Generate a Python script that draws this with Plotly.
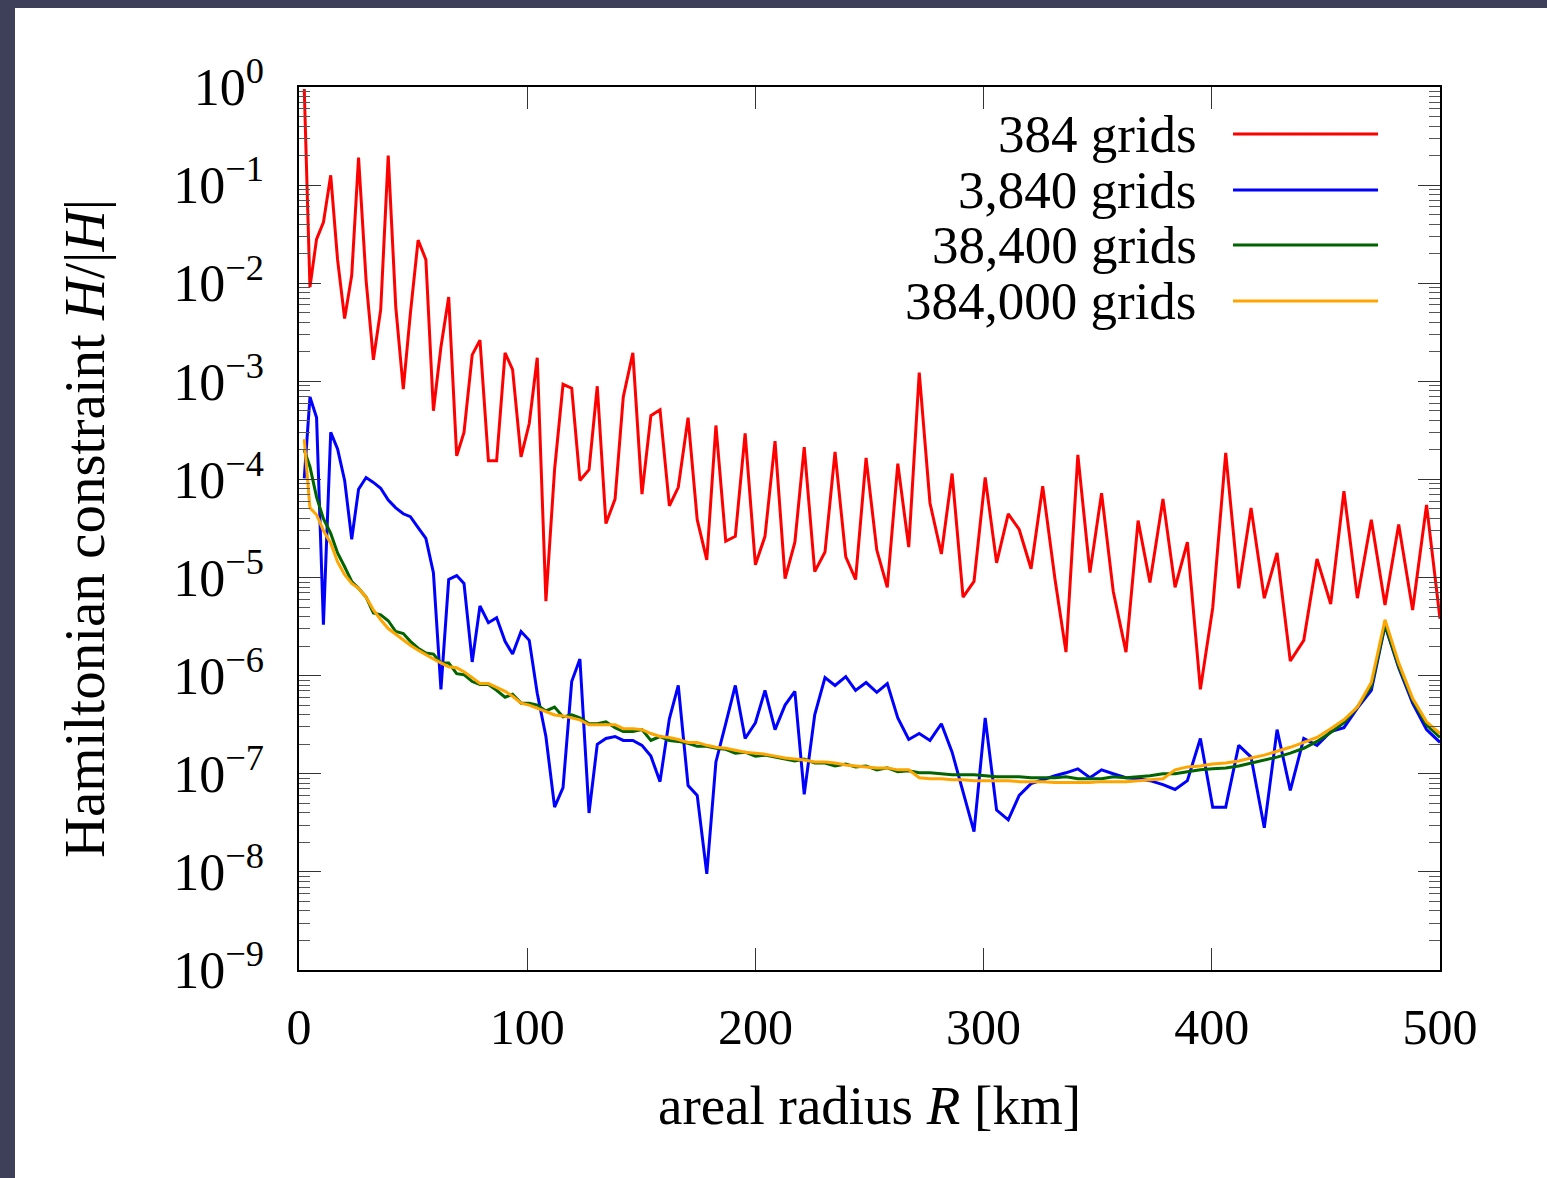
import plotly.graph_objects as go

# areal radius R [km] at which the constraint was sampled
radius_km = [2.3, 4.8, 7.7, 10.7, 13.9, 16.9, 20.0, 23.1, 26.1, 29.4,
             32.6, 35.8, 39.1, 42.4, 45.7, 48.8, 52.2, 55.6, 58.9, 62.2,
             65.6, 69.1, 72.3, 75.9, 79.3, 83.0, 86.6, 90.3, 93.6, 97.3,
             100.9, 104.4, 108.2, 112.0, 115.7, 119.5, 123.1, 127.1, 130.7, 134.5,
             138.5, 142.1, 146.3, 150.3, 154.2, 158.2, 162.3, 166.2, 170.5, 174.5,
             178.7, 182.7, 187.0, 191.2, 195.5, 200.0, 204.2, 208.6, 213.0, 217.3,
             221.4, 226.0, 230.5, 234.9, 239.6, 243.9, 248.5, 253.2, 257.8, 262.4,
             267.2, 271.8, 276.5, 281.5, 286.2, 291.0, 295.8, 300.7, 305.7, 310.8,
             315.6, 320.8, 325.9, 331.3, 336.1, 341.3, 346.6, 351.7, 356.8, 362.4,
             367.7, 372.9, 378.6, 383.9, 389.3, 395.0, 400.4, 406.1, 411.8, 417.2,
             423.0, 428.6, 434.4, 440.3, 446.1, 452.1, 457.9, 463.8, 469.9, 475.9,
             481.9, 488.0, 494.1, 500.0]

# log10 of the Hamiltonian constraint
log_h_384 = [-0.02, -2.04, -1.55, -1.38, -0.90, -1.76, -2.36, -1.92, -0.72, -1.97,
             -2.78, -2.27, -0.70, -2.24, -3.08, -2.31, -1.56, -1.76, -3.30, -2.65,
             -2.14, -3.76, -3.52, -2.73, -2.58, -3.81, -3.81, -2.71, -2.88, -3.77,
             -3.43, -2.76, -5.24, -3.90, -3.03, -3.07, -4.01, -3.90, -3.05, -4.45,
             -4.20, -3.16, -2.71, -4.15, -3.35, -3.29, -4.27, -4.08, -3.37, -4.41,
             -4.82, -3.45, -4.63, -4.58, -3.53, -4.87, -4.58, -3.61, -5.01, -4.64,
             -3.67, -4.94, -4.74, -3.72, -4.79, -5.02, -3.78, -4.72, -5.10, -3.84,
             -4.69, -2.91, -4.24, -4.76, -3.94, -5.20, -5.04, -3.98, -4.85, -4.35,
             -4.51, -4.91, -4.07, -5.02, -5.76, -3.75, -4.95, -4.14, -5.14, -5.76,
             -4.42, -5.05, -4.20, -5.10, -4.64, -6.14, -5.31, -3.73, -5.11, -4.29,
             -5.21, -4.75, -5.85, -5.64, -4.81, -5.27, -4.12, -5.21, -4.41, -5.28,
             -4.46, -5.33, -4.26, -5.42]

log_h_3840 = [-3.99, -3.16, -3.37, -5.48, -3.52, -3.69, -4.01, -4.61, -4.10, -3.98,
              -4.03, -4.09, -4.21, -4.29, -4.35, -4.38, -4.49, -4.60, -4.95, -6.14,
              -5.02, -4.98, -5.06, -5.86, -5.29, -5.46, -5.41, -5.65, -5.78, -5.55,
              -5.64, -6.18, -6.62, -7.34, -7.14, -6.06, -5.83, -7.40, -6.70, -6.64,
              -6.62, -6.66, -6.66, -6.71, -6.82, -7.08, -6.44, -6.10, -7.12, -7.22,
              -8.02, -6.88, -6.49, -6.10, -6.64, -6.48, -6.15, -6.55, -6.30, -6.16,
              -7.21, -6.40, -6.02, -6.10, -6.01, -6.15, -6.07, -6.17, -6.08, -6.43,
              -6.65, -6.59, -6.66, -6.49, -6.78, -7.18, -7.59, -6.43, -7.37, -7.47,
              -7.22, -7.10, -7.06, -7.02, -6.99, -6.95, -7.04, -6.96, -7.00, -7.04,
              -7.05, -7.07, -7.11, -7.16, -7.07, -6.64, -7.34, -7.34, -6.71, -6.83,
              -7.55, -6.55, -7.17, -6.64, -6.71, -6.57, -6.53, -6.33, -6.15, -5.49,
              -5.92, -6.28, -6.55, -6.68]

log_h_38400 = [-3.70, -3.87, -4.18, -4.40, -4.55, -4.75, -4.89, -5.04, -5.11, -5.20,
               -5.36, -5.38, -5.44, -5.55, -5.57, -5.65, -5.72, -5.77, -5.78, -5.87,
               -5.87, -5.98, -5.99, -6.06, -6.09, -6.09, -6.15, -6.22, -6.19, -6.28,
               -6.28, -6.30, -6.36, -6.32, -6.42, -6.40, -6.43, -6.49, -6.49, -6.47,
               -6.53, -6.57, -6.57, -6.55, -6.66, -6.62, -6.66, -6.67, -6.69, -6.72,
               -6.72, -6.74, -6.75, -6.79, -6.78, -6.82, -6.81, -6.83, -6.85, -6.87,
               -6.85, -6.89, -6.89, -6.92, -6.90, -6.93, -6.92, -6.96, -6.94, -6.98,
               -6.97, -6.99, -6.99, -7.00, -7.01, -7.01, -7.01, -7.02, -7.03, -7.03,
               -7.03, -7.04, -7.04, -7.04, -7.03, -7.05, -7.05, -7.05, -7.03, -7.04,
               -7.03, -7.02, -7.00, -7.00, -6.98, -6.96, -6.95, -6.94, -6.92, -6.89,
               -6.86, -6.83, -6.79, -6.74, -6.67, -6.58, -6.48, -6.32, -6.11, -5.48,
               -5.90, -6.25, -6.50, -6.63]

log_h_384000 = [-3.59, -4.29, -4.36, -4.52, -4.65, -4.84, -4.97, -5.06, -5.11, -5.20,
                -5.33, -5.43, -5.52, -5.58, -5.64, -5.69, -5.74, -5.79, -5.83, -5.87,
                -5.91, -5.92, -5.96, -6.02, -6.08, -6.08, -6.12, -6.16, -6.21, -6.28,
                -6.30, -6.33, -6.37, -6.40, -6.41, -6.43, -6.45, -6.50, -6.50, -6.50,
                -6.50, -6.54, -6.54, -6.55, -6.59, -6.62, -6.63, -6.65, -6.68, -6.68,
                -6.71, -6.73, -6.74, -6.76, -6.78, -6.79, -6.80, -6.82, -6.84, -6.85,
                -6.86, -6.88, -6.88, -6.89, -6.91, -6.92, -6.93, -6.94, -6.94, -6.96,
                -6.96, -7.04, -7.05, -7.05, -7.06, -7.06, -7.07, -7.07, -7.07, -7.07,
                -7.08, -7.08, -7.08, -7.09, -7.09, -7.09, -7.09, -7.08, -7.08, -7.08,
                -7.07, -7.06, -7.05, -6.96, -6.93, -6.92, -6.90, -6.89, -6.87, -6.84,
                -6.81, -6.77, -6.73, -6.68, -6.63, -6.54, -6.45, -6.32, -6.07, -5.43,
                -5.87, -6.23, -6.47, -6.59]

series_names = ["384 grids", "3,840 grids", "38,400 grids", "384,000 grids"]
series_logs = [log_h_384, log_h_3840, log_h_38400, log_h_384000]
series_colors = ["#ff0000", "#0000ff", "#006400", "#ffa500"]

x_tick_vals = [0, 100, 200, 300, 400, 500]
y_exponents = [0, -1, -2, -3, -4, -5, -6, -7, -8, -9]

FONT = "Liberation Serif"
BG_DARK = "#3e4059"
LW = 3

fig = go.Figure()
for name, logs, color in zip(series_names, series_logs, series_colors):
    fig.add_trace(go.Scatter(
        x=radius_km, y=[10 ** v for v in logs], mode="lines", name=name,
        line=dict(color=color, width=LW), showlegend=False))

# legend drawn as in the reference: label on the left, line sample on the right
leg_y = [0.9468, 0.8834, 0.8211, 0.7577]
for name, color, yy in zip(series_names, series_colors, leg_y):
    fig.add_annotation(xref="paper", yref="paper", x=0.789, y=yy, text=name,
                       showarrow=False, xanchor="right", yanchor="middle",
                       font=dict(family=FONT, size=53, color="black"))
    fig.add_shape(type="line", xref="paper", yref="paper", x0=0.8186, x1=0.9457,
                  y0=yy, y1=yy, line=dict(color=color, width=LW))

# dark frame strips on the top and left of the page
fig.add_shape(type="rect", xref="paper", yref="paper", x0=-0.3, x1=1.2,
              y0=(970 - 8) / 883, y1=1.2, fillcolor=BG_DARK, line_width=0, layer="below")
fig.add_shape(type="rect", xref="paper", yref="paper", x0=-0.3, x1=(15 - 299) / 1141,
              y0=-0.3, y1=1.2, fillcolor=BG_DARK, line_width=0, layer="below")

minor_vals = [k * 10.0 ** e for e in range(-9, 0) for k in range(2, 10)]

fig.update_layout(
    width=1547, height=1178,
    margin=dict(l=299, r=107, t=87, b=208, autoexpand=False),
    paper_bgcolor="white", plot_bgcolor="white",
    font=dict(family=FONT, size=50, color="black"),
    xaxis=dict(
        range=[0, 500], tickvals=x_tick_vals, ticktext=[str(v) for v in x_tick_vals],
        ticks="inside", ticklen=22, tickwidth=1, tickcolor="#333",
        showline=True, linecolor="black", linewidth=1.5, mirror="allticks",
        showgrid=False, zeroline=False, ticklabelstandoff=12,
        title=dict(text="areal radius <i>R</i> [km]", standoff=32,
                   font=dict(family=FONT, size=55)),
        tickfont=dict(family=FONT, size=50)),
    yaxis=dict(
        type="log", range=[-9, 0],
        tickvals=[10.0 ** e for e in y_exponents],
        ticktext=["10<sup>%s</sup>" % (str(e).replace("-", "\u2212")) for e in y_exponents],
        ticks="inside", ticklen=22, tickwidth=1, tickcolor="#333",
        minor=dict(tickvals=minor_vals, ticks="inside", ticklen=11, tickwidth=1,
                   tickcolor="#555", showgrid=False),
        showline=True, linecolor="black", linewidth=1.5, mirror="allticks",
        showgrid=False, zeroline=False, ticklabelstandoff=23,
        title=dict(text="Hamiltonian constraint <i>H</i>/|<i>H</i>|", standoff=50,
                   font=dict(family=FONT, size=57)),
        tickfont=dict(family=FONT, size=52)),
)

fig.write_html("out.html")
